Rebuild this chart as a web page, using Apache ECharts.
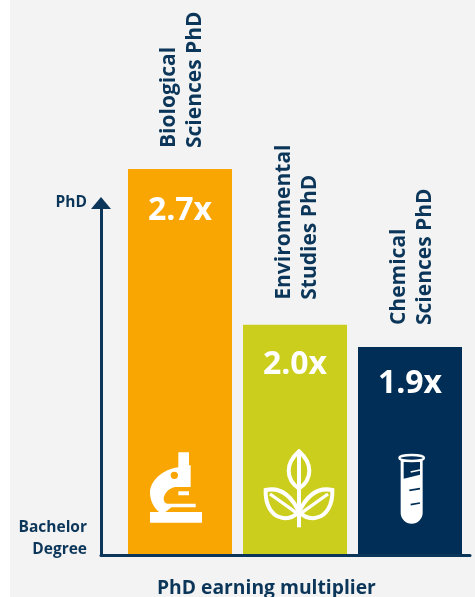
<!DOCTYPE html>
<html lang="en">
<head>
    <meta charset="UTF-8">
    <title>PhD earning multiplier</title>
    <style>
        html, body { margin: 0; padding: 0; background: #fff; }
        #bg { position: absolute; left: 10px; top: 0; width: 465px; height: 597px; background: #f3f3f3; }
        #container { position: absolute; left: 0; top: 0; width: 475px; height: 597px; }
    </style>
</head>
<body>
<div id="bg"></div>
<div id="container"></div>
<script src="https://cdn.jsdelivr.net/npm/echarts@6/dist/echarts.min.js"></script>
<script>
    var categories = ['Biological\nSciences PhD', 'Environmental\nStudies PhD', 'Chemical\nSciences PhD'];
    var multipliers = [2.7, 2.0, 1.9];
    var barColors = ['#f9a603', '#ccce1d', '#002e56'];
    var levelLabels = ['Bachelor\nDegree', 'PhD'];
    var axisName = 'PhD earning multiplier';

    var NAVY = '#0b3659';
    var FONT = '"Open Sans", Lato, sans-serif';
    var yMin = 0.97; // bachelor level sits just under 1x in the picture

    // label gaps differ a little from bar to bar in the original
    var valueGaps = [26, 24, 21];
    var nameGaps = [21, 25, 22];

    // icons, drawn at 3x and scaled down, origin is relative to bar centre / bar bottom
    var icons = [
        { dx: -35, dy: -106, parts: [
            { d: 'M100 13H132V52H137V117H90C68 122 56 140 56 152C56 160 60 166 68 167H152V178H80C72 183 66 190 60 192H171V224H15V192H42C25 178 15 155 15 135C15 100 50 65 100 58Z M99 82A11 11 0 1 0 77 82A11 11 0 1 0 99 82Z M100 130H132V142H100Z', fill: '#fff' }
        ] },
        { dx: -35, dy: -106, parts: [
            { d: 'M117 10C95 30 86 48 86 68C86 90 100 110 117 122C134 110 148 90 148 68C148 48 139 30 117 10Z', stroke: '#fff', width: 12 },
            { d: 'M117 10V238', stroke: '#fff', width: 12 },
            { d: 'M17 126C55 118 90 135 117 192C100 208 80 214 62 208C35 202 15 170 17 126Z', stroke: '#fff', width: 12 },
            { d: 'M217 126C179 118 144 135 117 192C134 208 154 214 172 208C199 202 219 170 217 126Z', stroke: '#fff', width: 12 },
            { d: 'M30 138L117 200M204 138L117 200', stroke: '#fff', width: 10 }
        ] },
        { dx: -18, dy: -106, parts: [
            { d: 'M26 30V194A33 33 0 0 0 92 194V30Z', fill: '#fff' },
            { d: 'M35 42H84V80L35 92Z', fill: '#002e56' },
            { d: 'M56 72L84 66', stroke: '#fff', width: 5 },
            { d: 'M22 30C22 24 40 21 59 21C78 21 96 24 96 30C96 36 78 39 59 39C40 39 22 36 22 30Z', fill: '#002e56', stroke: '#fff', width: 7 },
            { d: 'M52 127L84 122M56 170L84 165', stroke: '#002e56', width: 5 }
        ] }
    ];

    function renderIcon(params, api) {
        var pos = api.coord([api.value(0), api.value(1)]);
        var icon = icons[params.dataIndex];
        return {
            type: 'group',
            children: icon.parts.map(function (p) {
                return {
                    type: 'path',
                    x: pos[0] + icon.dx,
                    y: pos[1] + icon.dy,
                    scaleX: 1 / 3,
                    scaleY: 1 / 3,
                    shape: { pathData: p.d },
                    style: { fill: p.fill || 'none', stroke: p.stroke || 'none', lineWidth: p.width || 0 }
                };
            })
        };
    }

    var myChart = echarts.init(document.getElementById('container'), null, { renderer: 'canvas' });
    var option = {
        animation: false,
        backgroundColor: 'transparent',
        title: {
            text: axisName,
            left: 152,
            top: 574,
            textStyle: { color: NAVY, fontFamily: FONT, fontWeight: 'bold', fontSize: 19.3 }
        },
        grid: [
            { left: 122.5, width: 345, top: 169, height: 385 },
            { left: 101, width: 369, top: 203, height: 352 }
        ],
        xAxis: [
            { type: 'category', gridIndex: 0, data: categories, show: false },
            {
                type: 'value', gridIndex: 1, min: 0, max: 1,
                axisLine: { show: true, lineStyle: { color: NAVY, width: 3 } },
                axisTick: { show: false }, axisLabel: { show: false }, splitLine: { show: false }
            }
        ],
        yAxis: [
            { type: 'value', gridIndex: 0, min: yMin, max: 2.7, show: false },
            {
                type: 'value', gridIndex: 1, min: 0, max: 1,
                axisLine: {
                    show: true,
                    symbol: ['none', 'triangle'],
                    symbolSize: [20, 12],
                    lineStyle: { color: NAVY, width: 3 }
                },
                axisTick: { show: false },
                splitLine: { show: false },
                axisLabel: {
                    margin: 14,
                    color: NAVY,
                    fontFamily: FONT,
                    fontWeight: 'bold',
                    fontSize: 15.5,
                    lineHeight: 22,
                    customValues: [0.048, 1],
                    formatter: function (v) { return v === 1 ? levelLabels[1] : levelLabels[0]; }
                }
            }
        ],
        series: [
            {
                type: 'bar',
                xAxisIndex: 0, yAxisIndex: 0,
                barWidth: 104,
                data: multipliers.map(function (v, i) {
                    return {
                        value: v,
                        itemStyle: { color: barColors[i] },
                        label: { distance: valueGaps[i] }
                    };
                }),
                label: {
                    show: true,
                    position: 'insideTop',
                    color: '#fff',
                    fontFamily: FONT,
                    fontWeight: 'bold',
                    fontSize: 32,
                    formatter: function (p) { return p.value.toFixed(1) + 'x'; }
                }
            },
            {
                // second, see-through bar only carries the rotated names above each bar
                type: 'bar',
                xAxisIndex: 0, yAxisIndex: 0,
                barWidth: 104,
                barGap: '-100%',
                data: multipliers.map(function (v, i) {
                    return { value: v, label: { distance: nameGaps[i] } };
                }),
                itemStyle: { color: 'transparent' },
                label: {
                    show: true,
                    position: 'top',
                    offset: [0, 2],
                    rotate: 90,
                    align: 'left',
                    verticalAlign: 'middle',
                    color: NAVY,
                    fontFamily: FONT,
                    fontWeight: 'bold',
                    fontSize: 21,
                    lineHeight: 26,
                    formatter: function (p) { return categories[p.dataIndex]; }
                }
            },
            {
                type: 'custom',
                xAxisIndex: 0, yAxisIndex: 0,
                clip: false,
                z: 5,
                renderItem: renderIcon,
                data: categories.map(function (c, i) { return [i, yMin]; }),
                encode: { x: 0, y: 1 }
            }
        ]
    };
    myChart.setOption(option, true);
</script>
</body>
</html>
